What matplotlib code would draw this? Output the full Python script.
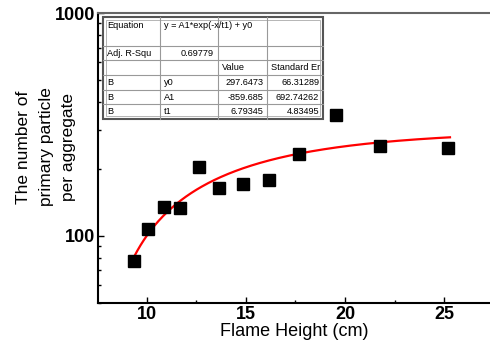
import numpy as np
import matplotlib
matplotlib.use("Agg")
import matplotlib.pyplot as plt
from matplotlib.ticker import LogLocator, NullFormatter, FixedLocator, FuncFormatter
from matplotlib.patches import Rectangle
from matplotlib.lines import Line2D

plt.rcParams['font.family'] = ['Liberation Sans', 'DejaVu Sans']

# Data
flame_height = [9.36, 10.07, 10.86, 11.65, 12.64, 13.65, 14.85, 16.16, 17.68, 19.55, 21.78, 25.19]
n_primary = [77.0, 107.5, 135, 133, 203, 164, 170.6, 178, 232, 349, 254, 247]

# Fit parameters
y0 = 297.6473
A1 = -859.685
t1 = 6.79345
fit_range = [9.36, 25.3]

# Table contents
table_rows = [
    ["Equation", "y = A1*exp(-x/t1) + y0", "", ""],
    ["Adj. R-Squ", "0.69779", "", ""],
    ["", "", "Value", "Standard Er"],
    ["B", "y0", "297.6473", "66.31289"],
    ["B", "A1", "-859.685", "692.74262"],
    ["B", "t1", "6.79345", "4.83495"],
]

W, H = 490, 344
fig = plt.figure(figsize=(W / 100, H / 100), dpi=100)
ax = fig.add_axes([98 / W, 1 - 303 / H, (490 - 98) / W, (303 - 13) / H])

ax.set_yscale('log')
ax.set_ylim(50, 1000)
ax.set_xlim(7.53, 27.32)

xf = np.linspace(fit_range[0], fit_range[1], 300)
yf = y0 + A1 * np.exp(-xf / t1)
ax.plot(xf, yf, color='red', lw=1.6, zorder=2)
ax.plot(flame_height, n_primary, 's', color='black', markersize=8, zorder=3)

ax.xaxis.set_major_locator(FixedLocator([10, 15, 20, 25]))
ax.xaxis.set_minor_locator(FixedLocator([12.5, 17.5, 22.5]))
ax.yaxis.set_major_locator(FixedLocator([100, 1000]))
ax.yaxis.set_major_formatter(FuncFormatter(lambda v, p: f"{int(v)}"))
ax.yaxis.set_minor_locator(LogLocator(base=10, subs=np.arange(2, 10)))
ax.yaxis.set_minor_formatter(NullFormatter())

ax.tick_params(which='major', direction='in', length=4.5, width=1, labelsize=13, pad=2)
ax.tick_params(which='minor', direction='in', length=2.5, width=1)
ax.tick_params(axis='y', which='both', right=False)
ax.tick_params(axis='x', which='both', top=False)
for lab in ax.get_xticklabels() + ax.get_yticklabels():
    lab.set_fontweight('bold')

for s in ['left', 'bottom']:
    ax.spines[s].set_linewidth(1.5)
    ax.spines[s].set_color('black')
ax.spines['top'].set_color('#666666')
ax.spines['top'].set_linewidth(1.5)
ax.spines['right'].set_visible(False)

ax.set_xlabel("Flame Height (cm)", fontsize=13, labelpad=0)
fig.text(46 / W, 1 - 147 / H, "The number of\nprimary particle\nper aggregate",
         fontsize=12.5, rotation=90, ha='center', va='center',
         multialignment='center', linespacing=1.65)

# Table drawn in figure pixel coordinates
col_x = [103, 160, 218, 267, 323]
row_y = [17, 46, 60, 75, 90, 104, 119]

def fx(px):
    return px / W

def fy(py):
    return 1 - py / H

for xx in col_x[1:-1]:
    fig.add_artist(Line2D([fx(xx), fx(xx)], [fy(row_y[0]), fy(row_y[-1])],
                          color='#999999', lw=0.8))
for yy in row_y[1:-1]:
    fig.add_artist(Line2D([fx(col_x[0]), fx(col_x[-1])], [fy(yy), fy(yy)],
                          color='#999999', lw=0.8))
fig.add_artist(Rectangle((fx(col_x[0]), fy(row_y[-1])),
                         fx(col_x[-1]) - fx(col_x[0]), fy(row_y[0]) - fy(row_y[-1]),
                         fill=False, edgecolor='#555555', lw=1.5))
fig.add_artist(Rectangle((fx(col_x[0] + 3), fy(row_y[-1] - 3)),
                         fx(col_x[-1] - 3) - fx(col_x[0] + 3), fy(row_y[0] + 3) - fy(row_y[-1] - 3),
                         fill=False, edgecolor='#aaaaaa', lw=0.6))

right_cols = {(1, 1), (3, 2), (3, 3), (4, 2), (4, 3), (5, 2), (5, 3)}
for r, row in enumerate(table_rows):
    for c, txt in enumerate(row):
        if not txt:
            continue
        if r == 0:
            ty = row_y[0] + 9
        else:
            ty = (row_y[r] + row_y[r + 1]) / 2
        if (r, c) in right_cols:
            tx = col_x[c + 1] - 4
            ha = 'right'
        else:
            tx = col_x[c] + 4
            ha = 'left'
        fig.text(fx(tx), fy(ty), txt, ha=ha, va='center', fontsize=6.6, color='black')

fig.savefig("out.png", dpi=100)
